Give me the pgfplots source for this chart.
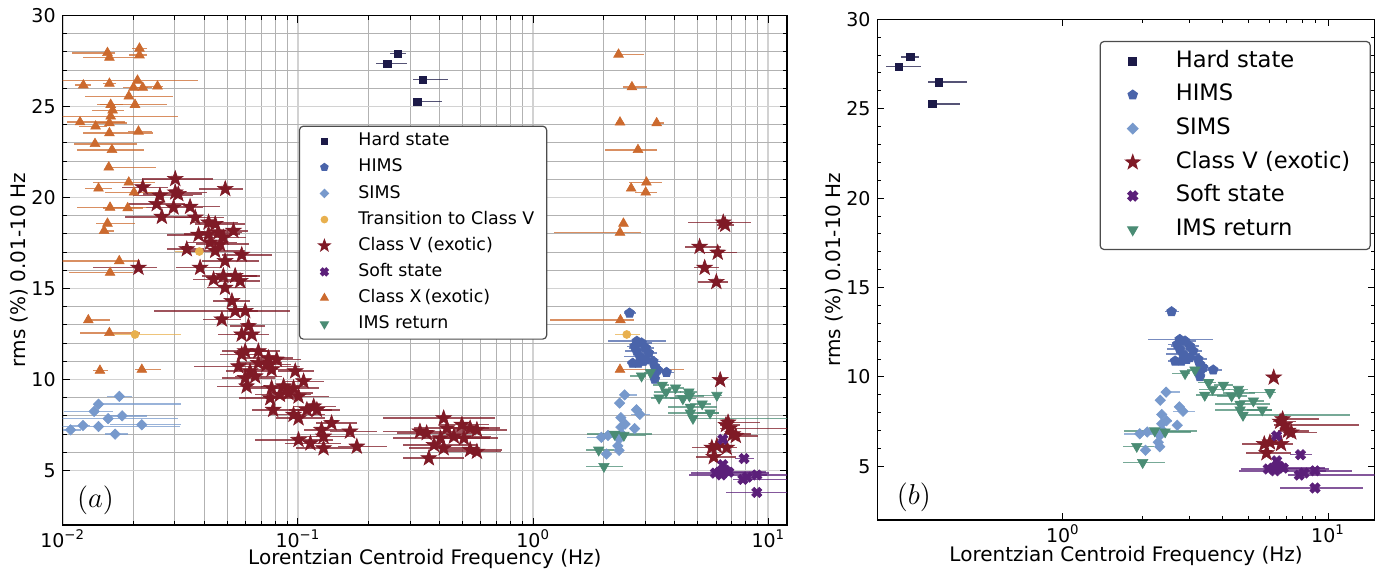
\documentclass[border=0pt]{standalone}
\usepackage{fontspec}
\setmainfont{DejaVu Sans}
\usepackage{pgfplots}
\pgfplotsset{compat=1.18}
\usepackage{pgfplotstable}

\definecolor{hard}{HTML}{1C1A48}
\definecolor{hims}{HTML}{4A64AA}
\definecolor{sims}{HTML}{7799CC}
\definecolor{trans}{HTML}{E8B04E}
\definecolor{classv}{HTML}{7F1A26}
\definecolor{soft}{HTML}{5B1F79}
\definecolor{classx}{HTML}{CC6A2E}
\definecolor{ims}{HTML}{4A8C74}

% filled five-pointed star
\pgfdeclareplotmark{fstar}{%
  \pgfpathmoveto{\pgfpointpolar{90}{\pgfplotmarksize}}%
  \pgfpathlineto{\pgfpointpolar{126}{0.4\pgfplotmarksize}}%
  \pgfpathlineto{\pgfpointpolar{162}{\pgfplotmarksize}}%
  \pgfpathlineto{\pgfpointpolar{198}{0.4\pgfplotmarksize}}%
  \pgfpathlineto{\pgfpointpolar{234}{\pgfplotmarksize}}%
  \pgfpathlineto{\pgfpointpolar{270}{0.4\pgfplotmarksize}}%
  \pgfpathlineto{\pgfpointpolar{306}{\pgfplotmarksize}}%
  \pgfpathlineto{\pgfpointpolar{342}{0.4\pgfplotmarksize}}%
  \pgfpathlineto{\pgfpointpolar{18}{\pgfplotmarksize}}%
  \pgfpathlineto{\pgfpointpolar{54}{0.4\pgfplotmarksize}}%
  \pgfpathclose\pgfusepathqfillstroke}
% filled X
\pgfdeclareplotmark{fx}{%
  \pgfpathmoveto{\pgfpoint{-0.46\pgfplotmarksize}{0.955\pgfplotmarksize}}%
  \pgfpathlineto{\pgfpoint{0pt}{0.495\pgfplotmarksize}}%
  \pgfpathlineto{\pgfpoint{0.46\pgfplotmarksize}{0.955\pgfplotmarksize}}%
  \pgfpathlineto{\pgfpoint{0.955\pgfplotmarksize}{0.46\pgfplotmarksize}}%
  \pgfpathlineto{\pgfpoint{0.495\pgfplotmarksize}{0pt}}%
  \pgfpathlineto{\pgfpoint{0.955\pgfplotmarksize}{-0.46\pgfplotmarksize}}%
  \pgfpathlineto{\pgfpoint{0.46\pgfplotmarksize}{-0.955\pgfplotmarksize}}%
  \pgfpathlineto{\pgfpoint{0pt}{-0.495\pgfplotmarksize}}%
  \pgfpathlineto{\pgfpoint{-0.46\pgfplotmarksize}{-0.955\pgfplotmarksize}}%
  \pgfpathlineto{\pgfpoint{-0.955\pgfplotmarksize}{-0.46\pgfplotmarksize}}%
  \pgfpathlineto{\pgfpoint{-0.495\pgfplotmarksize}{0pt}}%
  \pgfpathlineto{\pgfpoint{-0.955\pgfplotmarksize}{0.46\pgfplotmarksize}}%
  \pgfpathclose\pgfusepathqfillstroke}
% down triangle and diamond
\pgfdeclareplotmark{dtri}{%
  \pgfpathmoveto{\pgfpointpolar{270}{\pgfplotmarksize}}%
  \pgfpathlineto{\pgfpointpolar{30}{\pgfplotmarksize}}%
  \pgfpathlineto{\pgfpointpolar{150}{\pgfplotmarksize}}%
  \pgfpathclose\pgfusepathqfillstroke}
\pgfdeclareplotmark{dmd}{%
  \pgfpathmoveto{\pgfpoint{0pt}{\pgfplotmarksize}}%
  \pgfpathlineto{\pgfpoint{\pgfplotmarksize}{0pt}}%
  \pgfpathlineto{\pgfpoint{0pt}{-\pgfplotmarksize}}%
  \pgfpathlineto{\pgfpoint{-\pgfplotmarksize}{0pt}}%
  \pgfpathclose\pgfusepathqfillstroke}

% x y em ep  (frequency Hz, rms %, lower and upper x error)
\pgfplotstableread{
x y em ep
0.240 27.35 0.025 0.052
0.266 27.90 0.020 0.021
0.340 26.48 0.030 0.094
0.322 25.27 0.011 0.089
}\hardT
\pgfplotstableread{
x y em ep
2.57 13.65 0.14 0.18
2.76 12.10 0.67 0.92
2.89 12.01 0.25 0.30
2.70 11.82 0.20 0.35
3.01 11.73 0.45 0.25
2.76 11.55 0.30 0.40
3.10 11.45 0.20 0.25
2.84 11.27 0.40 0.45
3.01 11.08 0.20 0.30
2.65 10.89 0.15 0.20
2.80 10.89 0.20 0.25
2.93 10.99 0.20 0.20
3.24 10.99 0.20 0.25
3.29 10.71 0.15 0.20
3.38 10.52 0.15 0.20
3.29 10.25 0.15 0.15
3.69 10.39 0.26 0.28
3.29 10.02 0.10 0.15
}\himsT
\pgfplotstableread{
x y em ep
0.0108 7.23 0.0008 0.0012
0.0122 7.47 0.0016 0.0009
0.0142 7.41 0.0043 0.0174
0.0136 8.24 0.0035 0.0028
0.0142 8.64 0.0003 0.0177
0.0156 7.84 0.0057 0.0154
0.0179 8.00 0.0025 0.0049
0.0174 9.07 0.0020 0.0024
0.0217 7.51 0.0058 0.0102
0.0167 6.99 0.0016 0.0023
}\simsL
\pgfplotstableread{
x y em ep
2.45 9.15 0.05 0.31
2.33 8.70 0.03 0.05
2.75 8.33 0.05 0.08
2.84 8.08 0.23 0.31
2.36 7.90 0.04 0.06
2.46 7.55 0.06 0.12
2.36 7.38 0.05 0.05
2.70 7.30 0.10 0.06
1.95 6.82 0.25 0.35
2.08 6.92 0.20 0.25
2.32 6.72 0.04 0.05
2.29 6.35 0.04 0.05
2.32 6.10 0.04 0.04
2.05 5.90 0.06 0.10
2.38 7.00 0.05 0.05
}\simsR
\pgfplotstableread{
x y em ep
0.0381 17.03 0.0081 0.0002
0.0203 12.47 0.0044 0.0116
2.50 12.47 0.28 0.35
}\transT
\pgfplotstableread{
x y em ep
0.0301 21.02 0.0084 0.0136
0.0219 20.56 0.0040 0.0060
0.0491 20.47 0.0113 0.0096
0.0259 20.10 0.0060 0.0100
0.0301 20.28 0.0070 0.0110
0.0310 20.19 0.0090 0.0080
0.0251 19.64 0.0060 0.0080
0.0296 19.45 0.0070 0.0100
0.0348 19.49 0.0060 0.0120
0.0264 18.94 0.0080 0.0090
0.0366 18.90 0.0070 0.0120
0.0417 18.63 0.0070 0.0140
0.0445 18.54 0.0080 0.0150
0.0532 18.17 0.0080 0.0080
0.0378 17.95 0.0100 0.0100
0.0417 17.99 0.0090 0.0150
0.0459 18.08 0.0100 0.0120
0.0482 17.80 0.0090 0.0120
0.0423 17.52 0.0090 0.0130
0.0467 17.43 0.0100 0.0150
0.0337 17.16 0.0060 0.0060
0.0445 17.07 0.0100 0.0150
0.0577 16.85 0.0100 0.0200
0.0384 16.14 0.0080 0.0090
0.0490 16.51 0.0100 0.0190
0.0210 16.14 0.0075 0.0041
0.0438 15.50 0.0080 0.0150
0.0482 15.69 0.0090 0.0190
0.0541 15.69 0.0090 0.0150
0.0568 15.41 0.0100 0.0120
0.0490 15.04 0.0080 0.0110
0.0524 14.31 0.0090 0.0100
0.0541 13.76 0.0296 0.0383
0.0597 13.76 0.0090 0.0080
0.0475 13.30 0.0080 0.0100
0.0616 12.93 0.0100 0.0110
0.0577 12.47 0.0120 0.0100
0.0637 12.47 0.0100 0.0120
0.0597 11.55 0.0120 0.0150
0.0679 11.55 0.0130 0.0160
0.0577 11.37 0.0110 0.0130
0.0750 11.18 0.0150 0.0200
0.0813 11.09 0.0130 0.0220
0.0679 10.90 0.0120 0.0180
0.0737 10.82 0.0150 0.0200
0.0559 10.72 0.0197 0.0464
0.0626 10.45 0.0130 0.0180
0.0773 10.54 0.0150 0.0210
0.0974 10.45 0.0150 0.0200
0.1057 9.90 0.0180 0.0230
0.0597 10.08 0.0120 0.0200
0.0658 10.17 0.0120 0.0200
0.0605 9.62 0.0150 0.0180
0.0773 9.53 0.0150 0.0250
0.0869 9.62 0.0170 0.0230
0.0958 9.53 0.0160 0.0270
0.0763 8.97 0.0200 0.0250
0.0838 9.16 0.0180 0.0300
0.0912 9.25 0.0150 0.0250
0.1006 9.07 0.0150 0.0350
0.1167 8.52 0.0200 0.0280
0.1092 8.33 0.0180 0.0300
0.1204 8.33 0.0200 0.0300
0.0785 8.33 0.0150 0.0250
0.0958 8.06 0.0200 0.0350
0.1006 7.87 0.0200 0.0300
0.1390 7.60 0.0200 0.0400
0.1260 7.23 0.0200 0.0400
0.1285 6.86 0.0250 0.0450
0.1665 7.14 0.0300 0.0500
0.1006 6.68 0.0350 0.0400
0.1130 6.49 0.0250 0.0400
0.1285 6.22 0.0300 0.0500
0.1780 6.31 0.0300 0.0600
0.4165 7.87 0.1860 0.2700
0.3302 7.14 0.1000 0.2500
0.3527 7.05 0.0900 0.2000
0.4302 7.32 0.1200 0.2200
0.4978 7.51 0.1000 0.1500
0.5398 7.32 0.1200 0.1800
0.5767 7.23 0.1200 0.2000
0.4038 6.77 0.1500 0.2500
0.4603 6.86 0.1200 0.2000
0.5079 6.77 0.1200 0.2000
0.3790 6.40 0.1000 0.2000
0.4165 6.22 0.1200 0.1800
0.5398 6.13 0.1200 0.2000
0.5767 6.03 0.1500 0.1500
0.3603 5.67 0.0800 0.1500
}\cvMain
\pgfplotstableread{
x y em ep
6.43 18.63 1.89 2.04
6.55 18.50 0.50 0.60
5.10 17.29 0.70 1.20
6.09 16.97 0.80 1.30
5.36 16.14 0.55 0.80
6.01 15.36 1.00 0.70
}\cvHigh
\pgfplotstableread{
x y em ep
6.24 9.97 0.25 0.30
6.74 7.64 0.21 2.51
6.84 7.31 0.60 6.20
7.06 6.99 0.60 1.40
7.27 6.90 0.50 1.80
5.75 6.25 1.00 1.10
6.04 6.34 0.50 0.80
6.65 6.25 0.60 0.70
5.86 5.74 0.96 1.39
6.60 7.50 0.40 1.00
}\cvRight
\pgfplotstableread{
x y em ep
6.40 6.71 0.30 0.30
7.88 5.65 0.70 0.80
6.40 5.31 0.20 0.25
5.95 4.85 1.26 4.15
6.31 4.75 1.70 6.00
6.78 4.90 0.80 3.00
6.55 5.00 0.30 0.40
7.79 4.51 0.72 7.60
8.12 4.63 0.60 0.80
8.93 4.75 0.80 0.90
8.93 3.79 2.35 4.60
6.20 4.90 0.40 0.40
}\softT
\pgfplotstableread{
x y em ep
0.0155 27.95 0.0045 0.0012
0.0158 27.69 0.0036 0.0062
0.0212 28.19 0.0015 0.0016
0.0212 27.82 0.0020 0.0016
0.01224 26.17 0.0010 0.0010
0.0158 26.26 0.0010 0.0010
0.0208 26.43 0.0109 0.0168
0.0200 26.04 0.0020 0.0030
0.0219 26.04 0.0020 0.0020
0.0253 26.11 0.0031 0.0014
0.0191 25.56 0.0067 0.0104
0.0203 25.10 0.0059 0.0074
0.0160 25.10 0.0020 0.0020
0.0163 24.79 0.0030 0.0020
0.0160 24.46 0.0061 0.0149
0.0158 24.09 0.0020 0.0030
0.01185 24.14 0.0014 0.0066
0.0138 23.91 0.0021 0.0017
0.0158 23.54 0.0036 0.0085
0.0210 23.63 0.0020 0.0030
0.01372 22.95 0.0025 0.0069
0.0162 22.62 0.0047 0.0060
0.0157 21.66 0.0001 0.0093
0.0191 20.83 0.0056 0.0056
0.0142 20.50 0.0018 0.0020
0.0201 20.28 0.0050 0.0040
0.0159 19.45 0.0044 0.0069
0.0189 19.42 0.0040 0.0030
0.0155 18.57 0.0016 0.0048
0.0150 18.17 0.0005 0.0015
0.0174 16.51 0.0075 0.0039
0.0159 15.87 0.0053 0.0041
0.01285 13.26 0.0001 0.0031
0.0158 12.56 0.0040 0.0055
0.0144 10.49 0.0010 0.0012
0.0217 10.54 0.0014 0.0045
2.307 27.86 0.01 0.66
2.63 26.07 0.21 0.41
2.34 24.13 0.08 0.10
3.35 24.09 0.10 0.25
2.79 22.62 0.76 0.56
3.03 20.83 0.48 0.50
2.61 20.50 0.08 0.08
3.01 20.28 0.30 0.36
2.42 18.57 0.05 0.05
2.34 18.07 1.11 0.54
2.35 13.26 1.17 0.34
2.34 10.54 0.01 2.03
}\cxT
\pgfplotstableread{
x y em ep
2.89 10.19 0.32 0.12
3.15 10.39 0.20 0.20
3.54 9.69 0.30 0.25
4.03 9.54 0.30 0.35
3.67 9.31 0.40 0.60
3.43 8.98 0.25 0.80
4.59 9.31 0.40 0.40
4.33 8.94 0.50 0.60
4.62 9.09 0.60 0.70
5.23 8.66 0.60 0.50
6.04 9.13 1.00 0.30
4.66 8.48 0.90 1.40
4.66 8.16 0.90 1.50
5.65 8.16 0.70 0.50
4.78 7.86 0.08 7.32
2.22 6.99 0.52 0.99
2.43 6.93 0.40 0.60
1.90 6.12 0.22 0.31
2.00 5.22 0.32 0.42
}\imsT

\pgfplotsset{
  eb/.style={error bars/x dir=both, error bars/x explicit,
    error bars/error mark=none,
    error bars/error bar style={line width=0.75pt, color=#1, opacity=0.75}},
  pt/.style 2 args={only marks, mark=#2, color=#1,
    mark options={draw=#1, fill=#1, line width=0.3pt}, eb=#1},
}

\begin{document}
\begin{tikzpicture}
\useasboundingbox (0,0) rectangle (691pt,287.5pt);

% ---------------- panel (a)
\begin{axis}[
  scale only axis, xmode=log,
  at={(31.35pt,25pt)}, anchor=south west,
  width=362.15pt, height=254.75pt,
  xmin=0.01, xmax=12, ymin=2, ymax=30,
  ytick={5,10,15,20,25,30}, minor y tick num=4,
  xtick={0.01,0.1,1,10},
  xticklabels={10\textsuperscript{−2},10\textsuperscript{−1},10\textsuperscript{0},10\textsuperscript{1}},
  tick pos=both, tick align=inside,
  major tick length=3.5pt, minor tick length=2pt,
  tick style={black, line width=0.5pt},
  axis line style={line width=0.6pt},
  tick label style={font=\fontsize{9.5}{11}\selectfont},
  xticklabel style={yshift=1pt},
  yticklabel style={/pgf/number format/assume math mode=true},
  label style={font=\fontsize{9.5}{11}\selectfont},
  xlabel={Lorentzian Centroid Frequency (Hz)},
  ylabel={rms (\%) 0.01-10 Hz},
  grid=both,
  major grid style={gray!35, line width=0.9pt},
  minor grid style={gray!60, line width=0.5pt},
  every axis x label/.style={at={(axis description cs:0.5,-0.0675)}, anchor=center},
  every axis y label/.style={at={(axis description cs:-0.0603,0.5)}, rotate=90, anchor=center},
  legend cell align=left,
  legend image code/.code={\path (0pt,0pt) (12pt,0pt);
    \draw[#1] plot coordinates {(6pt,0pt)};},
  legend style={at={(rel axis cs:0.326,0.784)}, anchor=north west,
    draw=black!70, rounded corners=2pt, line width=0.6pt, fill=white,
    font=\fontsize{8.7}{10}\selectfont,
    inner xsep=6.2pt, inner ysep=3.35pt, row sep=4.77pt, column sep=10.7pt,
    nodes={inner sep=0pt, text height=6.5pt, text depth=1.8pt}},
]
\addplot[mark size=1.8pt, pt={hard}{square*}, forget plot]
  table[x=x, y=y, x error minus=em, x error plus=ep] {\hardT};
\addplot[mark size=2.6pt, pt={hims}{pentagon*}, forget plot]
  table[x=x, y=y, x error minus=em, x error plus=ep] {\himsT};
\addplot[mark size=2.6pt, pt={sims}{dmd}, forget plot]
  table[x=x, y=y, x error minus=em, x error plus=ep] {\simsL};
\addplot[mark size=2.6pt, pt={sims}{dmd}, forget plot]
  table[x=x, y=y, x error minus=em, x error plus=ep] {\simsR};
\addplot[mark size=2pt, pt={trans}{*}, forget plot]
  table[x=x, y=y, x error minus=em, x error plus=ep] {\transT};
\addplot[mark size=4.1pt, pt={classv}{fstar}, forget plot]
  table[x=x, y=y, x error minus=em, x error plus=ep] {\cvMain};
\addplot[mark size=4.1pt, pt={classv}{fstar}, forget plot]
  table[x=x, y=y, x error minus=em, x error plus=ep] {\cvHigh};
\addplot[mark size=4.1pt, pt={classv}{fstar}, forget plot]
  table[x=x, y=y, x error minus=em, x error plus=ep] {\cvRight};
\addplot[mark size=2.7pt, pt={soft}{fx}, forget plot]
  table[x=x, y=y, x error minus=em, x error plus=ep] {\softT};
\addplot[mark size=2.8pt, pt={classx}{triangle*}, forget plot]
  table[x=x, y=y, x error minus=em, x error plus=ep] {\cxT};
\addplot[mark size=3pt, pt={ims}{dtri}, forget plot]
  table[x=x, y=y, x error minus=em, x error plus=ep] {\imsT};

\addlegendimage{only marks, mark=square*, mark size=1.4pt, color=hard}
\addlegendentry{Hard state}
\addlegendimage{only marks, mark=pentagon*, mark size=1.9pt, color=hims}
\addlegendentry{HIMS}
\addlegendimage{only marks, mark=dmd, mark size=2pt, color=sims}
\addlegendentry{SIMS}
\addlegendimage{only marks, mark=*, mark size=1.6pt, color=trans}
\addlegendentry{Transition to Class V}
\addlegendimage{only marks, mark=fstar, mark size=2.9pt, color=classv}
\addlegendentry{Class V (exotic)}
\addlegendimage{only marks, mark=fx, mark size=2pt, color=soft}
\addlegendentry{Soft state}
\addlegendimage{only marks, mark=triangle*, mark size=2.1pt, color=classx}
\addlegendentry{Class X\,(exotic)}
\addlegendimage{only marks, mark=dtri, mark size=2.2pt, color=ims}
\addlegendentry{IMS return}

\node[anchor=base west, font=\fontsize{13.5}{15}\selectfont]
  at (rel axis cs:0.0101,0.0353) {$(a)$};
\end{axis}

% ---------------- panel (b)
\begin{axis}[
  scale only axis, xmode=log,
  at={(438.75pt,27.5pt)}, anchor=south west,
  width=248.6pt, height=250.35pt,
  xmin=0.2, xmax=15, ymin=2, ymax=30,
  ytick={5,10,15,20,25,30}, minor y tick num=4,
  xtick={1,10},
  xticklabels={10\textsuperscript{0},10\textsuperscript{1}},
  tick pos=both, tick align=inside,
  major tick length=3.5pt, minor tick length=2pt,
  tick style={black, line width=0.5pt},
  axis line style={line width=0.6pt},
  tick label style={font=\fontsize{9.5}{11}\selectfont},
  xticklabel style={yshift=1pt},
  yticklabel style={/pgf/number format/assume math mode=true},
  label style={font=\fontsize{9.5}{11}\selectfont},
  xlabel={Lorentzian Centroid Frequency (Hz)},
  ylabel={rms (\%) 0.01-10 Hz},
  every axis x label/.style={at={(axis description cs:0.5,-0.0715)}, anchor=center},
  every axis y label/.style={at={(axis description cs:-0.0879,0.5)}, rotate=90, anchor=center},
  legend cell align=left,
  legend image code/.code={\path (0pt,0pt) (12pt,0pt);
    \draw[#1] plot coordinates {(6pt,0pt)};},
  legend style={at={(rel axis cs:0.4466,0.957)}, anchor=north west,
    draw=black!70, rounded corners=2pt, line width=0.6pt, fill=white,
    font=\fontsize{11.3}{13}\selectfont,
    inner xsep=10pt, inner ysep=4.6pt, row sep=6.25pt, column sep=15.2pt,
    nodes={inner sep=0pt, text height=8.2pt, text depth=2.4pt}},
]
\addplot[mark size=1.8pt, pt={hard}{square*}, forget plot]
  table[x=x, y=y, x error minus=em, x error plus=ep] {\hardT};
\addplot[mark size=2.6pt, pt={hims}{pentagon*}, forget plot]
  table[x=x, y=y, x error minus=em, x error plus=ep] {\himsT};
\addplot[mark size=2.6pt, pt={sims}{dmd}, forget plot]
  table[x=x, y=y, x error minus=em, x error plus=ep] {\simsR};
\addplot[mark size=4.1pt, pt={classv}{fstar}, forget plot]
  table[x=x, y=y, x error minus=em, x error plus=ep] {\cvRight};
\addplot[mark size=2.7pt, pt={soft}{fx}, forget plot]
  table[x=x, y=y, x error minus=em, x error plus=ep] {\softT};
\addplot[mark size=3pt, pt={ims}{dtri}, forget plot]
  table[x=x, y=y, x error minus=em, x error plus=ep] {\imsT};

\addlegendimage{only marks, mark=square*, mark size=1.9pt, color=hard}
\addlegendentry{Hard state}
\addlegendimage{only marks, mark=pentagon*, mark size=2.4pt, color=hims}
\addlegendentry{HIMS}
\addlegendimage{only marks, mark=dmd, mark size=2.6pt, color=sims}
\addlegendentry{SIMS}
\addlegendimage{only marks, mark=fstar, mark size=3.6pt, color=classv}
\addlegendentry{Class V (exotic)}
\addlegendimage{only marks, mark=fx, mark size=2.6pt, color=soft}
\addlegendentry{Soft state}
\addlegendimage{only marks, mark=dtri, mark size=2.8pt, color=ims}
\addlegendentry{IMS return}

\node[anchor=base west, font=\fontsize{13.5}{15}\selectfont]
  at (rel axis cs:0.025,0.03) {$(b)$};
\end{axis}
\end{tikzpicture}
\end{document}
